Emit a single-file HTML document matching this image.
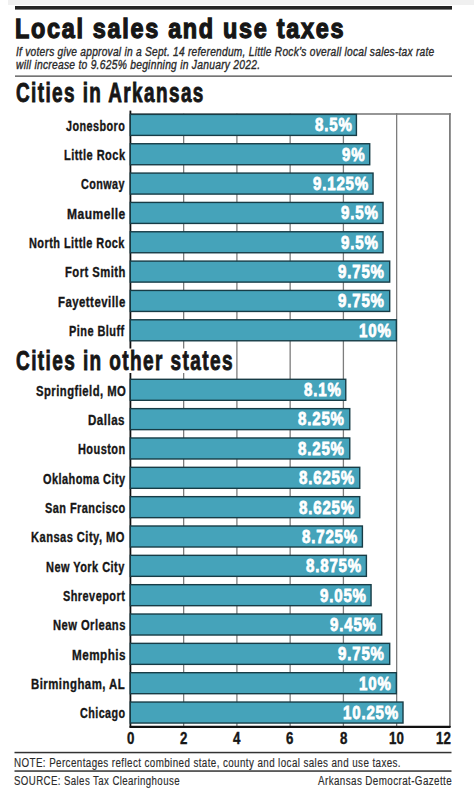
<!DOCTYPE html>
<html><head><meta charset="utf-8"><style>
html,body{margin:0;padding:0;}
body{width:474px;height:795px;position:relative;overflow:hidden;background:#fff;font-family:"Liberation Sans",sans-serif;}
svg{position:absolute;left:0;top:0;}
.t{position:absolute;white-space:pre;transform-origin:0 0;}
</style></head><body>
<svg width="474" height="795" viewBox="0 0 474 795">
<rect x="8.00" y="0.00" width="466.00" height="5.00" fill="#f0f0f0" />
<rect x="15.00" y="6.00" width="437.00" height="3.60" fill="#222" />
<rect x="15.00" y="75.40" width="437.00" height="1.50" fill="#666" />
<rect x="130.40" y="113.20" width="320.40" height="1.60" fill="#7d7d7d" />
<rect x="183.00" y="113.20" width="1.30" height="613.80" fill="#7d7d7d" />
<rect x="236.25" y="113.20" width="1.30" height="613.80" fill="#7d7d7d" />
<rect x="289.50" y="113.20" width="1.30" height="613.80" fill="#7d7d7d" />
<rect x="342.75" y="113.20" width="1.30" height="613.80" fill="#7d7d7d" />
<rect x="396.00" y="113.20" width="1.30" height="613.80" fill="#7d7d7d" />
<rect x="449.00" y="113.20" width="1.80" height="613.80" fill="#7d7d7d" />
<rect x="129.50" y="110.60" width="1.80" height="617.30" fill="#111" />
<rect x="129.50" y="725.80" width="321.30" height="2.10" fill="#111" rx="1"/>
<rect x="130.30" y="114.40" width="226.11" height="21.00" fill="#45a3ba" stroke="#173c46" stroke-width="1.4"/>
<rect x="130.30" y="143.74" width="239.42" height="21.00" fill="#45a3ba" stroke="#173c46" stroke-width="1.4"/>
<rect x="130.30" y="173.08" width="242.75" height="21.00" fill="#45a3ba" stroke="#173c46" stroke-width="1.4"/>
<rect x="130.30" y="202.42" width="252.74" height="21.00" fill="#45a3ba" stroke="#173c46" stroke-width="1.4"/>
<rect x="130.30" y="231.76" width="252.74" height="21.00" fill="#45a3ba" stroke="#173c46" stroke-width="1.4"/>
<rect x="130.30" y="261.10" width="259.39" height="21.00" fill="#45a3ba" stroke="#173c46" stroke-width="1.4"/>
<rect x="130.30" y="290.44" width="259.39" height="21.00" fill="#45a3ba" stroke="#173c46" stroke-width="1.4"/>
<rect x="130.30" y="319.78" width="266.05" height="21.00" fill="#45a3ba" stroke="#173c46" stroke-width="1.4"/>
<rect x="130.30" y="379.30" width="215.46" height="21.00" fill="#45a3ba" stroke="#173c46" stroke-width="1.4"/>
<rect x="130.30" y="408.64" width="219.46" height="21.00" fill="#45a3ba" stroke="#173c46" stroke-width="1.4"/>
<rect x="130.30" y="437.98" width="219.46" height="21.00" fill="#45a3ba" stroke="#173c46" stroke-width="1.4"/>
<rect x="130.30" y="467.32" width="229.44" height="21.00" fill="#45a3ba" stroke="#173c46" stroke-width="1.4"/>
<rect x="130.30" y="496.66" width="229.44" height="21.00" fill="#45a3ba" stroke="#173c46" stroke-width="1.4"/>
<rect x="130.30" y="526.00" width="232.10" height="21.00" fill="#45a3ba" stroke="#173c46" stroke-width="1.4"/>
<rect x="130.30" y="555.34" width="236.10" height="21.00" fill="#45a3ba" stroke="#173c46" stroke-width="1.4"/>
<rect x="130.30" y="584.68" width="240.76" height="21.00" fill="#45a3ba" stroke="#173c46" stroke-width="1.4"/>
<rect x="130.30" y="614.02" width="251.41" height="21.00" fill="#45a3ba" stroke="#173c46" stroke-width="1.4"/>
<rect x="130.30" y="643.36" width="259.39" height="21.00" fill="#45a3ba" stroke="#173c46" stroke-width="1.4"/>
<rect x="130.30" y="672.70" width="266.05" height="21.00" fill="#45a3ba" stroke="#173c46" stroke-width="1.4"/>
<rect x="130.30" y="702.04" width="272.71" height="21.00" fill="#45a3ba" stroke="#173c46" stroke-width="1.4"/>
<rect x="0.00" y="348.50" width="234.00" height="24.50" fill="#fff" />
<rect x="14.50" y="751.80" width="437.00" height="1.50" fill="#333" />
<rect x="14.50" y="770.30" width="437.00" height="1.50" fill="#333" />
</svg>
<span class="t" style="left:15.45px;top:15.12px;font-size:27.5px;line-height:27.5px;font-weight:bold;font-style:normal;color:#161616;transform:scaleX(0.8512);-webkit-text-stroke:1.3px #161616;letter-spacing:2.0px;">Local sales and use taxes</span>
<span class="t" style="left:16.30px;top:45.89px;font-size:12.3px;line-height:12.3px;font-weight:normal;font-style:italic;color:#2a2a2a;transform:scaleX(0.8285);-webkit-text-stroke:0.35px #2a2a2a;letter-spacing:0.3px;">If voters give approval in a Sept. 14 referendum, Little Rock’s overall local sales-tax rate</span>
<span class="t" style="left:16.30px;top:59.39px;font-size:12.3px;line-height:12.3px;font-weight:normal;font-style:italic;color:#2a2a2a;transform:scaleX(0.8372);-webkit-text-stroke:0.35px #2a2a2a;letter-spacing:0.3px;">will increase to 9.625% beginning in January 2022.</span>
<span class="t" style="left:15.60px;top:80.24px;font-size:27.0px;line-height:27.0px;font-weight:bold;font-style:normal;color:#161616;transform:scaleX(0.7015);-webkit-text-stroke:0.9px #161616;letter-spacing:2.0px;">Cities in Arkansas</span>
<span class="t" style="left:15.60px;top:347.94px;font-size:27.0px;line-height:27.0px;font-weight:bold;font-style:normal;color:#161616;transform:scaleX(0.7039);-webkit-text-stroke:0.9px #161616;letter-spacing:2.0px;">Cities in other states</span>
<span class="t" style="left:66.10px;top:118.62px;font-size:14.5px;line-height:14.5px;font-weight:bold;font-style:normal;color:#161616;transform:scaleX(0.7456);-webkit-text-stroke:0.35px #161616;letter-spacing:0.6px;">Jonesboro</span>
<span class="t" style="left:64.04px;top:147.96px;font-size:14.5px;line-height:14.5px;font-weight:bold;font-style:normal;color:#161616;transform:scaleX(0.7620);-webkit-text-stroke:0.35px #161616;letter-spacing:0.6px;">Little Rock</span>
<span class="t" style="left:81.20px;top:177.30px;font-size:14.5px;line-height:14.5px;font-weight:bold;font-style:normal;color:#161616;transform:scaleX(0.7424);-webkit-text-stroke:0.35px #161616;letter-spacing:0.6px;">Conway</span>
<span class="t" style="left:66.97px;top:206.64px;font-size:14.5px;line-height:14.5px;font-weight:bold;font-style:normal;color:#161616;transform:scaleX(0.8290);-webkit-text-stroke:0.35px #161616;letter-spacing:0.6px;">Maumelle</span>
<span class="t" style="left:29.15px;top:235.98px;font-size:14.5px;line-height:14.5px;font-weight:bold;font-style:normal;color:#161616;transform:scaleX(0.7548);-webkit-text-stroke:0.35px #161616;letter-spacing:0.6px;">North Little Rock</span>
<span class="t" style="left:65.32px;top:265.32px;font-size:14.5px;line-height:14.5px;font-weight:bold;font-style:normal;color:#161616;transform:scaleX(0.7750);-webkit-text-stroke:0.35px #161616;letter-spacing:0.6px;">Fort Smith</span>
<span class="t" style="left:58.21px;top:294.66px;font-size:14.5px;line-height:14.5px;font-weight:bold;font-style:normal;color:#161616;transform:scaleX(0.7857);-webkit-text-stroke:0.35px #161616;letter-spacing:0.6px;">Fayetteville</span>
<span class="t" style="left:69.04px;top:324.00px;font-size:14.5px;line-height:14.5px;font-weight:bold;font-style:normal;color:#161616;transform:scaleX(0.7562);-webkit-text-stroke:0.35px #161616;letter-spacing:0.6px;">Pine Bluff</span>
<span class="t" style="left:35.60px;top:383.52px;font-size:14.5px;line-height:14.5px;font-weight:bold;font-style:normal;color:#161616;transform:scaleX(0.7774);-webkit-text-stroke:0.35px #161616;letter-spacing:0.6px;">Springfield, MO</span>
<span class="t" style="left:88.30px;top:412.86px;font-size:14.5px;line-height:14.5px;font-weight:bold;font-style:normal;color:#161616;transform:scaleX(0.7978);-webkit-text-stroke:0.35px #161616;letter-spacing:0.6px;">Dallas</span>
<span class="t" style="left:78.14px;top:442.20px;font-size:14.5px;line-height:14.5px;font-weight:bold;font-style:normal;color:#161616;transform:scaleX(0.7557);-webkit-text-stroke:0.35px #161616;letter-spacing:0.6px;">Houston</span>
<span class="t" style="left:42.70px;top:471.54px;font-size:14.5px;line-height:14.5px;font-weight:bold;font-style:normal;color:#161616;transform:scaleX(0.7550);-webkit-text-stroke:0.35px #161616;letter-spacing:0.6px;">Oklahoma City</span>
<span class="t" style="left:45.00px;top:500.88px;font-size:14.5px;line-height:14.5px;font-weight:bold;font-style:normal;color:#161616;transform:scaleX(0.7547);-webkit-text-stroke:0.35px #161616;letter-spacing:0.6px;">San Francisco</span>
<span class="t" style="left:31.43px;top:530.22px;font-size:14.5px;line-height:14.5px;font-weight:bold;font-style:normal;color:#161616;transform:scaleX(0.7669);-webkit-text-stroke:0.35px #161616;letter-spacing:0.6px;">Kansas City, MO</span>
<span class="t" style="left:46.24px;top:559.56px;font-size:14.5px;line-height:14.5px;font-weight:bold;font-style:normal;color:#161616;transform:scaleX(0.7573);-webkit-text-stroke:0.35px #161616;letter-spacing:0.6px;">New York City</span>
<span class="t" style="left:63.20px;top:588.90px;font-size:14.5px;line-height:14.5px;font-weight:bold;font-style:normal;color:#161616;transform:scaleX(0.7537);-webkit-text-stroke:0.35px #161616;letter-spacing:0.6px;">Shreveport</span>
<span class="t" style="left:52.53px;top:618.24px;font-size:14.5px;line-height:14.5px;font-weight:bold;font-style:normal;color:#161616;transform:scaleX(0.7710);-webkit-text-stroke:0.35px #161616;letter-spacing:0.6px;">New Orleans</span>
<span class="t" style="left:71.79px;top:647.58px;font-size:14.5px;line-height:14.5px;font-weight:bold;font-style:normal;color:#161616;transform:scaleX(0.8062);-webkit-text-stroke:0.35px #161616;letter-spacing:0.6px;">Memphis</span>
<span class="t" style="left:31.41px;top:676.92px;font-size:14.5px;line-height:14.5px;font-weight:bold;font-style:normal;color:#161616;transform:scaleX(0.7864);-webkit-text-stroke:0.35px #161616;letter-spacing:0.6px;">Birmingham, AL</span>
<span class="t" style="left:79.70px;top:706.26px;font-size:14.5px;line-height:14.5px;font-weight:bold;font-style:normal;color:#161616;transform:scaleX(0.7426);-webkit-text-stroke:0.35px #161616;letter-spacing:0.6px;">Chicago</span>
<span class="t" style="left:314.65px;top:116.24px;font-size:18.5px;line-height:18.5px;font-weight:bold;font-style:normal;color:#ffffff;transform:scaleX(0.8147);-webkit-text-stroke:0.8px #ffffff;letter-spacing:1.0px;">8.5%</span>
<span class="t" style="left:341.81px;top:145.58px;font-size:18.5px;line-height:18.5px;font-weight:bold;font-style:normal;color:#ffffff;transform:scaleX(0.8147);-webkit-text-stroke:0.8px #ffffff;letter-spacing:1.0px;">9%</span>
<span class="t" style="left:312.55px;top:174.92px;font-size:18.5px;line-height:18.5px;font-weight:bold;font-style:normal;color:#ffffff;transform:scaleX(0.8147);-webkit-text-stroke:0.8px #ffffff;letter-spacing:1.0px;">9.125%</span>
<span class="t" style="left:341.28px;top:204.26px;font-size:18.5px;line-height:18.5px;font-weight:bold;font-style:normal;color:#ffffff;transform:scaleX(0.8147);-webkit-text-stroke:0.8px #ffffff;letter-spacing:1.0px;">9.5%</span>
<span class="t" style="left:341.28px;top:233.60px;font-size:18.5px;line-height:18.5px;font-weight:bold;font-style:normal;color:#ffffff;transform:scaleX(0.8147);-webkit-text-stroke:0.8px #ffffff;letter-spacing:1.0px;">9.5%</span>
<span class="t" style="left:338.16px;top:262.94px;font-size:18.5px;line-height:18.5px;font-weight:bold;font-style:normal;color:#ffffff;transform:scaleX(0.8147);-webkit-text-stroke:0.8px #ffffff;letter-spacing:1.0px;">9.75%</span>
<span class="t" style="left:338.16px;top:292.28px;font-size:18.5px;line-height:18.5px;font-weight:bold;font-style:normal;color:#ffffff;transform:scaleX(0.8147);-webkit-text-stroke:0.8px #ffffff;letter-spacing:1.0px;">9.75%</span>
<span class="t" style="left:359.48px;top:321.62px;font-size:18.5px;line-height:18.5px;font-weight:bold;font-style:normal;color:#ffffff;transform:scaleX(0.8147);-webkit-text-stroke:0.8px #ffffff;letter-spacing:1.0px;">10%</span>
<span class="t" style="left:304.00px;top:381.14px;font-size:18.5px;line-height:18.5px;font-weight:bold;font-style:normal;color:#ffffff;transform:scaleX(0.8147);-webkit-text-stroke:0.8px #ffffff;letter-spacing:1.0px;">8.1%</span>
<span class="t" style="left:298.22px;top:410.48px;font-size:18.5px;line-height:18.5px;font-weight:bold;font-style:normal;color:#ffffff;transform:scaleX(0.8147);-webkit-text-stroke:0.8px #ffffff;letter-spacing:1.0px;">8.25%</span>
<span class="t" style="left:298.22px;top:439.82px;font-size:18.5px;line-height:18.5px;font-weight:bold;font-style:normal;color:#ffffff;transform:scaleX(0.8147);-webkit-text-stroke:0.8px #ffffff;letter-spacing:1.0px;">8.25%</span>
<span class="t" style="left:299.24px;top:469.16px;font-size:18.5px;line-height:18.5px;font-weight:bold;font-style:normal;color:#ffffff;transform:scaleX(0.8147);-webkit-text-stroke:0.8px #ffffff;letter-spacing:1.0px;">8.625%</span>
<span class="t" style="left:299.24px;top:498.50px;font-size:18.5px;line-height:18.5px;font-weight:bold;font-style:normal;color:#ffffff;transform:scaleX(0.8147);-webkit-text-stroke:0.8px #ffffff;letter-spacing:1.0px;">8.625%</span>
<span class="t" style="left:301.90px;top:527.84px;font-size:18.5px;line-height:18.5px;font-weight:bold;font-style:normal;color:#ffffff;transform:scaleX(0.8147);-webkit-text-stroke:0.8px #ffffff;letter-spacing:1.0px;">8.725%</span>
<span class="t" style="left:305.90px;top:557.18px;font-size:18.5px;line-height:18.5px;font-weight:bold;font-style:normal;color:#ffffff;transform:scaleX(0.8147);-webkit-text-stroke:0.8px #ffffff;letter-spacing:1.0px;">8.875%</span>
<span class="t" style="left:319.52px;top:586.52px;font-size:18.5px;line-height:18.5px;font-weight:bold;font-style:normal;color:#ffffff;transform:scaleX(0.8147);-webkit-text-stroke:0.8px #ffffff;letter-spacing:1.0px;">9.05%</span>
<span class="t" style="left:330.17px;top:615.86px;font-size:18.5px;line-height:18.5px;font-weight:bold;font-style:normal;color:#ffffff;transform:scaleX(0.8147);-webkit-text-stroke:0.8px #ffffff;letter-spacing:1.0px;">9.45%</span>
<span class="t" style="left:338.16px;top:645.20px;font-size:18.5px;line-height:18.5px;font-weight:bold;font-style:normal;color:#ffffff;transform:scaleX(0.8147);-webkit-text-stroke:0.8px #ffffff;letter-spacing:1.0px;">9.75%</span>
<span class="t" style="left:359.48px;top:674.54px;font-size:18.5px;line-height:18.5px;font-weight:bold;font-style:normal;color:#ffffff;transform:scaleX(0.8147);-webkit-text-stroke:0.8px #ffffff;letter-spacing:1.0px;">10%</span>
<span class="t" style="left:342.51px;top:703.88px;font-size:18.5px;line-height:18.5px;font-weight:bold;font-style:normal;color:#ffffff;transform:scaleX(0.8147);-webkit-text-stroke:0.8px #ffffff;letter-spacing:1.0px;">10.25%</span>
<span class="t" style="left:126.62px;top:730.82px;font-size:15.8px;line-height:15.8px;font-weight:bold;font-style:normal;color:#161616;transform:scaleX(0.8400);-webkit-text-stroke:0.4px #161616;">0</span>
<span class="t" style="left:179.87px;top:730.82px;font-size:15.8px;line-height:15.8px;font-weight:bold;font-style:normal;color:#161616;transform:scaleX(0.8400);-webkit-text-stroke:0.4px #161616;">2</span>
<span class="t" style="left:233.12px;top:730.82px;font-size:15.8px;line-height:15.8px;font-weight:bold;font-style:normal;color:#161616;transform:scaleX(0.8400);-webkit-text-stroke:0.4px #161616;">4</span>
<span class="t" style="left:286.37px;top:730.82px;font-size:15.8px;line-height:15.8px;font-weight:bold;font-style:normal;color:#161616;transform:scaleX(0.8400);-webkit-text-stroke:0.4px #161616;">6</span>
<span class="t" style="left:339.62px;top:730.82px;font-size:15.8px;line-height:15.8px;font-weight:bold;font-style:normal;color:#161616;transform:scaleX(0.8400);-webkit-text-stroke:0.4px #161616;">8</span>
<span class="t" style="left:389.09px;top:730.82px;font-size:15.8px;line-height:15.8px;font-weight:bold;font-style:normal;color:#161616;transform:scaleX(0.8400);-webkit-text-stroke:0.4px #161616;">10</span>
<span class="t" style="left:436.32px;top:730.82px;font-size:15.8px;line-height:15.8px;font-weight:bold;font-style:normal;color:#161616;transform:scaleX(0.8400);-webkit-text-stroke:0.4px #161616;">12</span>
<span class="t" style="left:14.38px;top:757.04px;font-size:12.0px;line-height:12.0px;font-weight:normal;font-style:normal;color:#2b2b2b;transform:scaleX(0.8169);-webkit-text-stroke:0.15px #2b2b2b;letter-spacing:0.5px;">NOTE: Percentages reflect combined state, county and local sales and use taxes.</span>
<span class="t" style="left:14.39px;top:775.44px;font-size:12.0px;line-height:12.0px;font-weight:normal;font-style:normal;color:#2b2b2b;transform:scaleX(0.8054);-webkit-text-stroke:0.15px #2b2b2b;letter-spacing:0.5px;">SOURCE: Sales Tax Clearinghouse</span>
<span class="t" style="left:317.60px;top:775.44px;font-size:12.0px;line-height:12.0px;font-weight:normal;font-style:normal;color:#2b2b2b;transform:scaleX(0.8184);-webkit-text-stroke:0.15px #2b2b2b;letter-spacing:0.5px;">Arkansas Democrat-Gazette</span>
</body></html>
